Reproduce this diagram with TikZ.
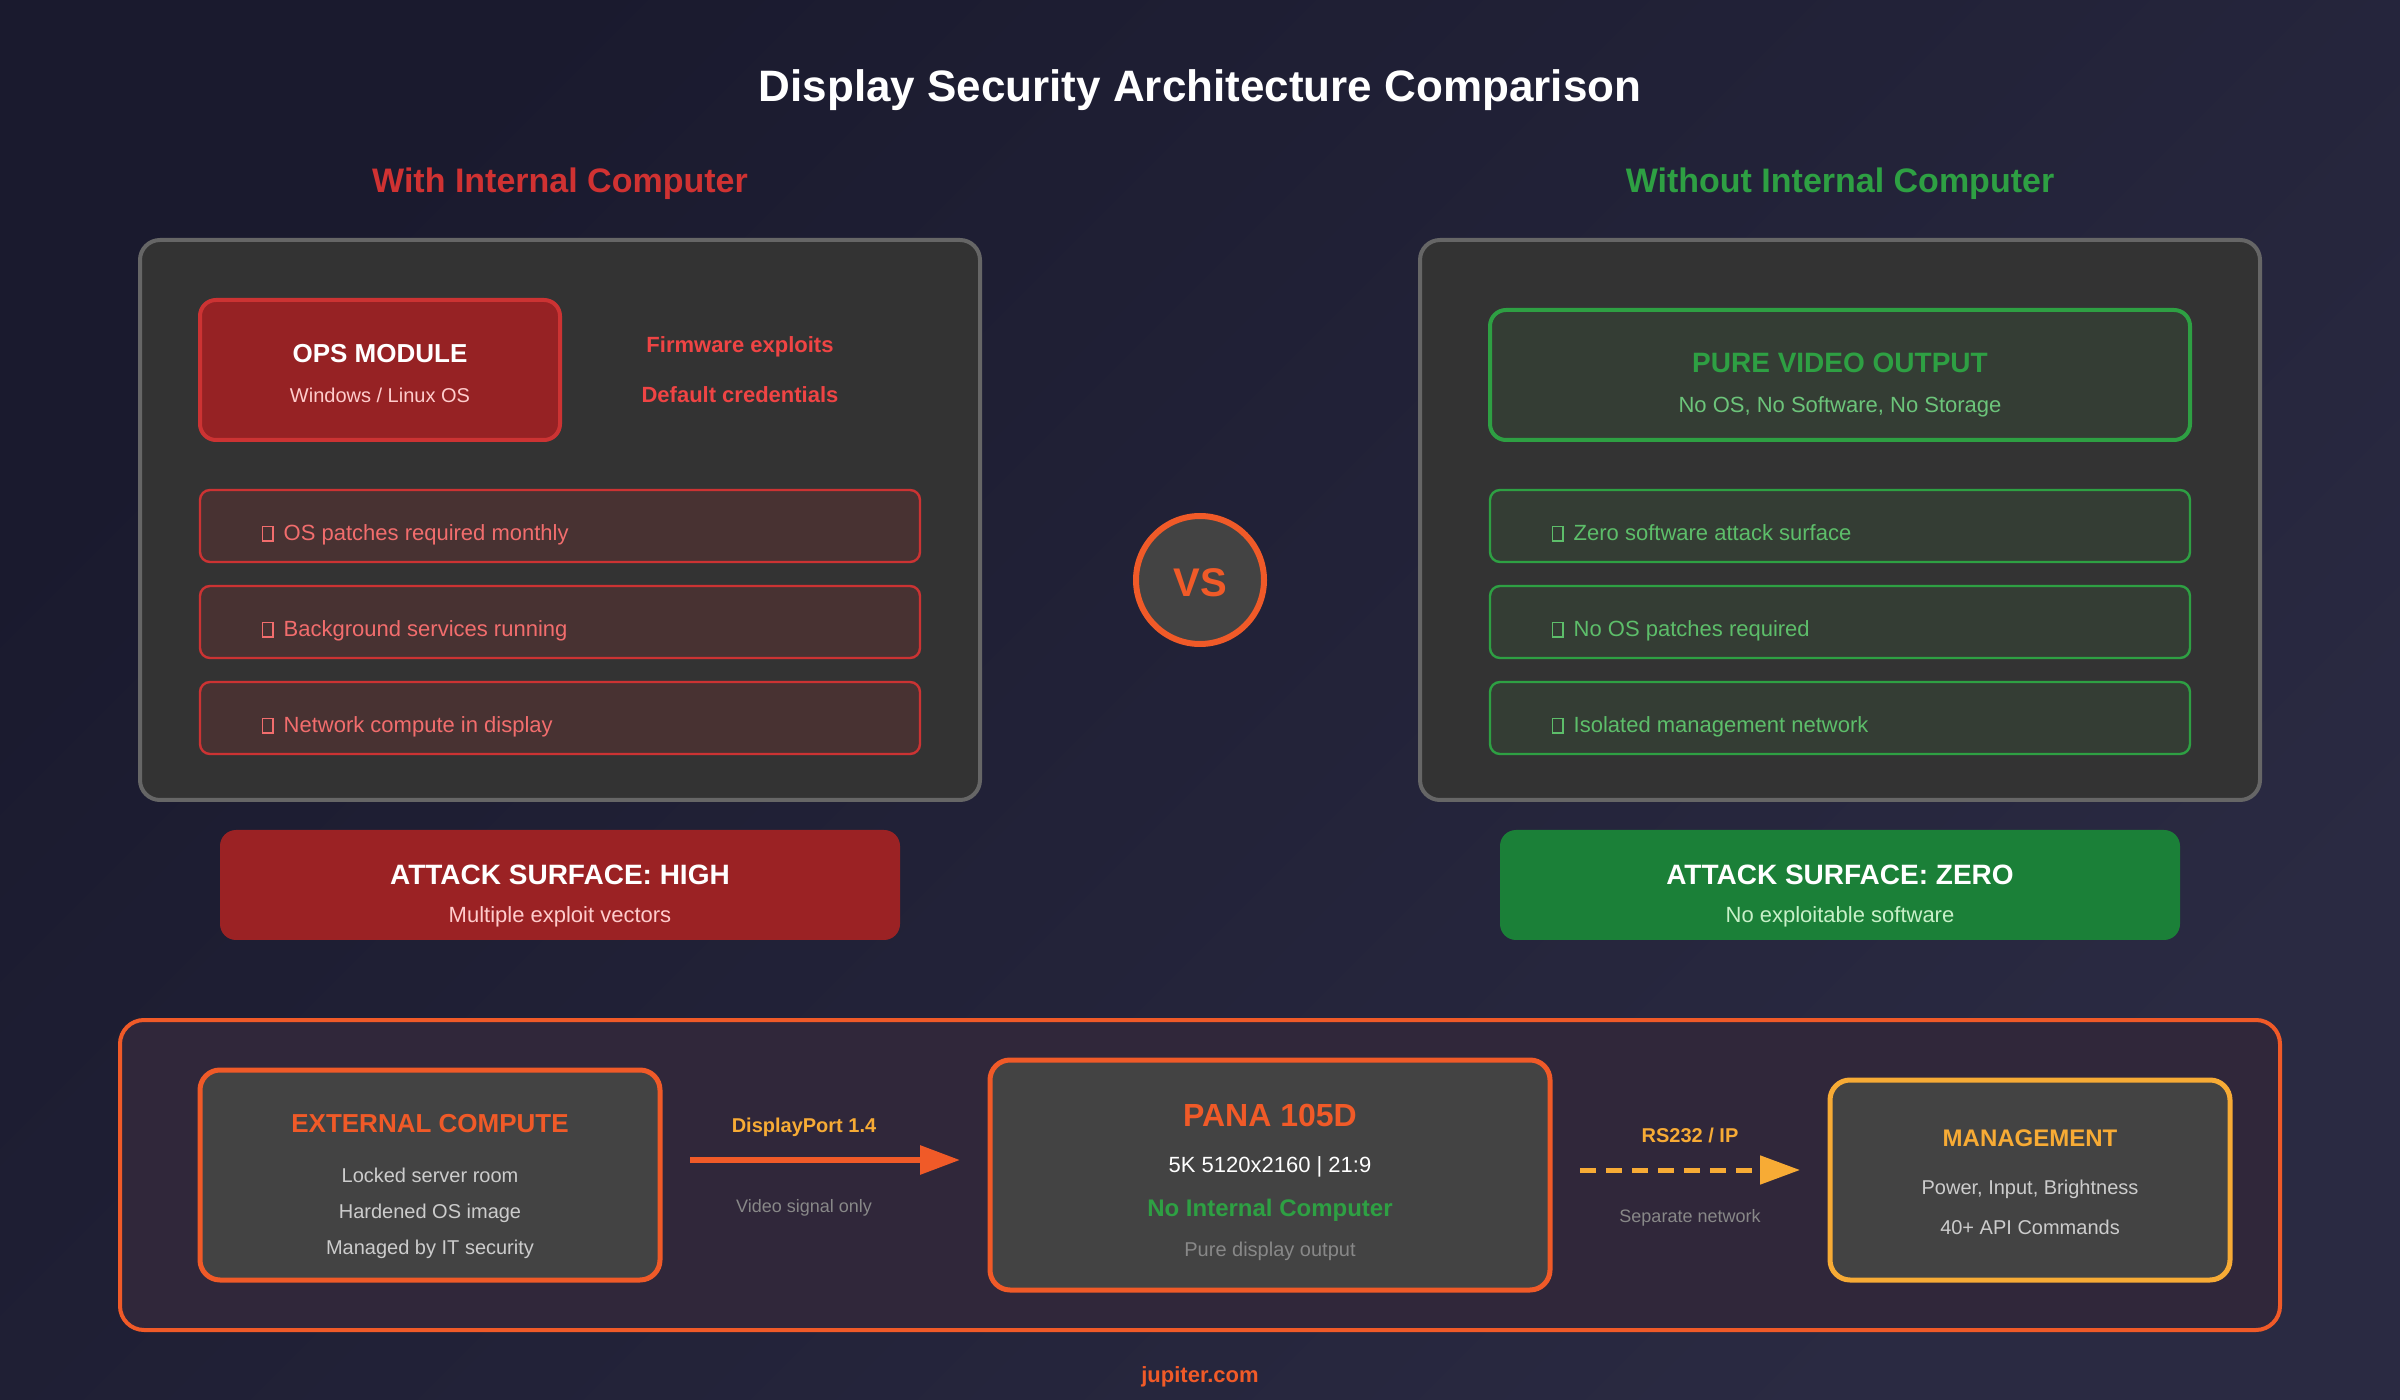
\documentclass[tikz,border=0pt]{standalone}
\usepackage{fontspec}
\setmainfont{Liberation Sans}
\usetikzlibrary{arrows.meta}
\definecolor{bgA}{HTML}{1A1A2E}
\definecolor{bgB}{HTML}{2A2A42}
\definecolor{panelfill}{HTML}{333333}
\definecolor{panelline}{HTML}{666666}
\definecolor{redhead}{HTML}{D03232}
\definecolor{greenhead}{HTML}{2EA043}
\definecolor{opsfill}{HTML}{962224}
\definecolor{redline}{HTML}{CC3333}
\definecolor{itemred}{HTML}{483232}
\definecolor{salmon}{HTML}{F26D6D}
\definecolor{exploit}{HTML}{EF4444}
\definecolor{pinkish}{HTML}{FFCCCC}
\definecolor{itemgreen}{HTML}{343D34}
\definecolor{lightgreen}{HTML}{5DBE6A}
\definecolor{paleg}{HTML}{6CC47A}
\definecolor{attred}{HTML}{9B2224}
\definecolor{attgreen}{HTML}{1B8038}
\definecolor{paleggreen}{HTML}{C8F0C8}
\definecolor{orangec}{HTML}{F05A28}
\definecolor{yellowc}{HTML}{F7AB35}
\definecolor{bottomfill}{HTML}{30273A}
\definecolor{innerfill}{HTML}{434343}
\definecolor{greytxt}{HTML}{888888}
\definecolor{lighttxt}{HTML}{CCCCCC}
\newcommand\tofubox{\kern1pt{\fboxsep=0pt\fboxrule=0.6pt\fbox{\rule{0pt}{6.8pt}\rule{4.6pt}{0pt}}}\kern2pt}
\tikzset{
  txt/.style={anchor=base, inner sep=0pt, outer sep=0pt, yshift=-1.2pt},
  ltxt/.style={anchor=base west, inner sep=0pt, outer sep=0pt, yshift=-1.2pt},
  rg/.style={font=\fontsize{#1}{#1}\selectfont},
  bd/.style={font=\fontsize{#1}{#1}\selectfont\bfseries},
  box/.style={rectangle, inner sep=0pt, outer sep=0pt},
  panel/.style={box, fill=panelfill, draw=panelline, line width=2pt, rounded corners=10pt, minimum width=420pt, minimum height=280pt},
  redrow/.style={box, fill=itemred, draw=redline, line width=1.2pt, rounded corners=5pt, minimum width=360pt, minimum height=36pt},
  greenrow/.style={box, fill=itemgreen, draw=greenhead, line width=1.2pt, rounded corners=5pt, minimum width=350pt, minimum height=36pt},
  attbox/.style={box, rounded corners=8pt, minimum width=340pt, minimum height=55pt},
  devbox/.style={box, fill=innerfill, line width=2.5pt, rounded corners=10pt},
}
\begin{document}
\begin{tikzpicture}[x=1pt,y=-1pt]
\useasboundingbox (0,0) rectangle (1200,700);
\shade[top color=bgA, bottom color=bgB, shading angle=45] (0,0) rectangle (1200,700);

% title and headings
\node[txt, bd=22, text=white] (title) at (600,49.5) {Display Security Architecture Comparison};
\node[txt, bd=17, text=redhead] (lhead) at (280,95) {With Internal Computer};
\node[txt, bd=17, text=greenhead] (rhead) at (920,95) {Without Internal Computer};

% left panel
\node[panel] (lpanel) at (280,260) {};
\node[box, fill=opsfill, draw=redline, line width=2pt, rounded corners=8pt, minimum width=180pt, minimum height=70pt] (ops) at (190,185) {};
\node[txt, bd=13, text=white] (opst) at (190,180) {OPS MODULE};
\node[txt, rg=10, text=pinkish] (opss) at (190,200) {Windows / Linux OS};
\node[txt, bd=11, text=exploit] (fw) at (370,175) {Firmware exploits};
\node[txt, bd=11, text=exploit] (dc) at (370,200) {Default credentials};
\node[redrow] (l1) at (280,263) {};
\node[redrow] (l2) at (280,311) {};
\node[redrow] (l3) at (280,359) {};
\node[ltxt, rg=11, text=salmon] (l1t) at (130,269) {\tofubox\ OS patches required monthly};
\node[ltxt, rg=11, text=salmon] (l2t) at (130,317) {\tofubox\ Background services running};
\node[ltxt, rg=11, text=salmon] (l3t) at (130,365) {\tofubox\ Network compute in display};

% right panel
\node[panel] (rpanel) at (920,260) {};
\node[box, fill=itemgreen, draw=greenhead, line width=2pt, rounded corners=8pt, minimum width=350pt, minimum height=65pt] (pure) at (920,187.5) {};
\node[txt, bd=14, text=greenhead] (puret) at (920,185) {PURE VIDEO OUTPUT};
\node[txt, rg=11, text=paleg] (pures) at (920,205) {No OS, No Software, No Storage};
\node[greenrow] (r1) at (920,263) {};
\node[greenrow] (r2) at (920,311) {};
\node[greenrow] (r3) at (920,359) {};
\node[ltxt, rg=11, text=lightgreen] (r1t) at (775,269) {\tofubox\ Zero software attack surface};
\node[ltxt, rg=11, text=lightgreen] (r2t) at (775,317) {\tofubox\ No OS patches required};
\node[ltxt, rg=11, text=lightgreen] (r3t) at (775,365) {\tofubox\ Isolated management network};

% VS
\node[circle, inner sep=0pt, minimum size=64pt, fill=innerfill, draw=orangec, line width=3pt] (vs) at (600,290) {};
\node[txt, bd=20, text=orangec] (vst) at (600,297) {VS};

% attack surface boxes
\node[attbox, fill=attred] (attl) at (280,442.5) {};
\node[txt, bd=14, text=white] (attlt) at (280,441) {ATTACK SURFACE: HIGH};
\node[txt, rg=11, text=pinkish] (attls) at (280,460) {Multiple exploit vectors};
\node[attbox, fill=attgreen] (attr) at (920,442.5) {};
\node[txt, bd=14, text=white] (attrt) at (920,441) {ATTACK SURFACE: ZERO};
\node[txt, rg=11, text=paleggreen] (attrs) at (920,460) {No exploitable software};

% bottom panel
\node[box, fill=bottomfill, draw=orangec, line width=2pt, rounded corners=12pt, minimum width=1080pt, minimum height=155pt] (bottom) at (600,587.5) {};

\node[devbox, draw=orangec, minimum width=230pt, minimum height=105pt] (ext) at (215,587.5) {};
\node[txt, bd=13, text=orangec] (extt) at (215,565) {EXTERNAL COMPUTE};
\node[txt, rg=10, text=lighttxt] (ext1) at (215,590) {Locked server room};
\node[txt, rg=10, text=lighttxt] (ext2) at (215,608) {Hardened OS image};
\node[txt, rg=10, text=lighttxt] (ext3) at (215,626) {Managed by IT security};

\node[devbox, draw=orangec, minimum width=280pt, minimum height=115pt] (pana) at (635,587.5) {};
\node[txt, bd=16, text=orangec] (panat) at (635,562) {PANA 105D};
\node[txt, rg=11, text=white] (pana1) at (635,585) {5K 5120x2160 | 21:9};
\node[txt, bd=12, text=greenhead] (pana2) at (635,607) {No Internal Computer};
\node[txt, rg=10, text=greytxt] (pana3) at (635,627) {Pure display output};

\node[devbox, draw=yellowc, minimum width=200pt, minimum height=100pt] (mgmt) at (1015,590) {};
\node[txt, bd=12, text=yellowc] (mgmtt) at (1015,572) {MANAGEMENT};
\node[txt, rg=10, text=lighttxt] (mgmt1) at (1015,596) {Power, Input, Brightness};
\node[txt, rg=10, text=lighttxt] (mgmt2) at (1015,616) {40+ API Commands};

% connectors
\coordinate (dpS) at (345,580);
\coordinate (dpE) at (480,580);
\draw[orangec, line width=3pt, -{Triangle[length=20pt, width=14pt]}] (dpS) -- (dpE);
\node[txt, bd=10, text=yellowc] (dpt) at (402,565) {DisplayPort 1.4};
\node[txt, rg=9, text=greytxt] (dps) at (402,605) {Video signal only};

\coordinate (rsS) at (790,585);
\coordinate (rsE) at (900,585);
\draw[yellowc, line width=2.5pt, dash pattern=on 8pt off 5pt, -{Triangle[length=20pt, width=14pt]}] (rsS) -- (rsE);
\node[txt, bd=10, text=yellowc] (rst) at (845,570) {RS232 / IP};
\node[txt, rg=9, text=greytxt] (rss) at (845,610) {Separate network};

\node[txt, bd=11, text=orangec] (footer) at (600,690) {jupiter.com};
\end{tikzpicture}
\end{document}
